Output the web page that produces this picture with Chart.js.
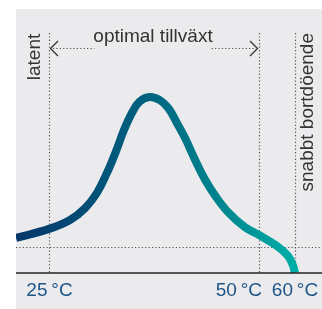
<!DOCTYPE html>
<html>
<head>
<meta charset="utf-8">
<script src="https://cdn.jsdelivr.net/npm/chart.js@4/dist/chart.umd.min.js"></script>
<style>
  html, body { margin: 0; padding: 0; background: #fff; }
  #wrap { width: 322px; height: 309px; }
</style>
</head>
<body>
<div id="wrap"><canvas id="growth"></canvas></div>
<script>
// temperatur (°C) och relativ tillväxt
const temps = [21, 25, 27.5, 29.3, 30.7, 31.9, 33.0, 33.9, 34.9, 35.8, 37.0, 38.2, 39.2, 40.1, 41.2, 42.4, 43.6, 44.8, 46.3, 48.3, 50, 55, 58.1, 59.4, 60];
const growth = [13.3, 16.7, 20.1, 24.6, 30.3, 37.9, 46.3, 54.0, 60.8, 65.0, 66.7, 65.5, 62.5, 57.6, 51.1, 42.8, 35.2, 29.2, 23.1, 17.4, 14.4, 10.2, 6.4, 3.0, 0];

const tickValues = [25, 50, 60];
const tickLabels = ["25\u2009°C", "50\u2009°C", "60\u2009°C"];
const refLevel = 10; // horisontell prickad linje
const zoneLabels = ["latent", "optimal tillväxt", "snabbt bortdöende"];

// schematisk x-axel: olika skala i varje intervall
class PiecewiseScale extends Chart.LinearScale {
    static id = "piecewise";
    static defaults = {};
    getPixelForValue(value) {
        const b = this.options.breaks;
        let i = 0;
        while (i < b.length - 2 && value > b[i + 1][0]) i++;
        const v0 = b[i][0], f0 = b[i][1], v1 = b[i + 1][0], f1 = b[i + 1][1];
        return this.getPixelForDecimal(f0 + (value - v0) / (v1 - v0) * (f1 - f0));
    }
    getValueForPixel(pixel) {
        const b = this.options.breaks;
        const d = this.getDecimalForPixel(pixel);
        let i = 0;
        while (i < b.length - 2 && d > b[i + 1][1]) i++;
        const v0 = b[i][0], f0 = b[i][1], v1 = b[i + 1][0], f1 = b[i + 1][1];
        return v0 + (d - f0) / (f1 - f0) * (v1 - v0);
    }
}
Chart.register(PiecewiseScale);

const FONT = '19px "Liberation Sans", Arial, sans-serif';
const TEXT = "#333";
const TICK = "#1c5587";

function dotted(ctx, x1, y1, x2, y2) {
    ctx.beginPath();
    ctx.moveTo(x1, y1);
    ctx.lineTo(x2, y2);
    ctx.stroke();
}

const schematic = {
    id: "schematic",
    beforeDraw(chart) {
        const { ctx, chartArea: a } = chart;
        ctx.save();
        ctx.fillStyle = "#ebebee";
        ctx.fillRect(a.left, a.top, a.right - a.left, chart.height - a.top);
        ctx.restore();
    },
    beforeDatasetsDraw(chart) {
        const { ctx, chartArea: a, scales: { x, y } } = chart;
        ctx.save();
        ctx.strokeStyle = "#555";
        ctx.lineWidth = 1.2;
        ctx.setLineDash([1.2, 2.2]);
        tickValues.forEach(v => {
            const px = Math.round(x.getPixelForValue(v)) + 0.5;
            dotted(ctx, px, a.top + 24, px, a.bottom);
        });
        const py = Math.round(y.getPixelForValue(refLevel)) + 0.5;
        dotted(ctx, a.left, py, a.right, py);

        // pilar för "optimal tillväxt"
        const xl = x.getPixelForValue(tickValues[0]);
        const xr = x.getPixelForValue(tickValues[1]);
        const ay = a.top + 39.5;
        ctx.font = FONT;
        const mid = (xl + xr) / 2 - 1;
        const tw = ctx.measureText(zoneLabels[1]).width;
        dotted(ctx, xl + 4, ay, mid - tw / 2 + 1, ay);
        dotted(ctx, mid + tw / 2 - 1, ay, xr - 3, ay);
        ctx.setLineDash([]);
        ctx.strokeStyle = "#333";
        ctx.lineWidth = 1.3;
        ctx.beginPath();
        ctx.moveTo(xl + 9, ay - 7.5); ctx.lineTo(xl + 1.5, ay); ctx.lineTo(xl + 9, ay + 7.5);
        ctx.moveTo(xr - 9, ay - 7.5); ctx.lineTo(xr - 1.5, ay); ctx.lineTo(xr - 9, ay + 7.5);
        ctx.stroke();

        ctx.fillStyle = TEXT;
        ctx.textAlign = "center";
        ctx.textBaseline = "alphabetic";
        ctx.fillText(zoneLabels[1], mid, a.top + 33);
        ctx.restore();
    },
    afterDatasetsDraw(chart) {
        const { ctx, chartArea: a, scales: { x } } = chart;
        ctx.save();
        // x-axel
        ctx.strokeStyle = "#222";
        ctx.lineWidth = 1.6;
        ctx.beginPath();
        ctx.moveTo(a.left, a.bottom);
        ctx.lineTo(a.right, a.bottom);
        ctx.stroke();

        // lodräta etiketter
        ctx.font = FONT;
        ctx.fillStyle = TEXT;
        ctx.textBaseline = "alphabetic";
        ctx.save();
        ctx.translate(x.getPixelForValue(tickValues[0]) - 9, a.top + 48);
        ctx.rotate(-Math.PI / 2);
        ctx.textAlign = "center";
        ctx.fillText(zoneLabels[0], 0, 0);
        ctx.restore();
        ctx.save();
        ctx.translate(x.getPixelForValue(tickValues[2]) + 18, a.top + 24);
        ctx.rotate(-Math.PI / 2);
        ctx.textAlign = "right";
        ctx.fillText(zoneLabels[2], 0, 0);
        ctx.restore();

        // tick-etiketter
        ctx.fillStyle = TICK;
        const aligns = ["center", "right", "center"];
        const shifts = [0.5, 3, 0];
        tickValues.forEach((v, i) => {
            ctx.textAlign = aligns[i];
            ctx.fillText(tickLabels[i], x.getPixelForValue(v) + shifts[i], a.bottom + 23);
        });
        ctx.restore();
    }
};

const canvas = document.getElementById("growth");

new Chart(canvas, {
    type: "line",
    data: {
        datasets: [{
            data: temps.map((t, i) => ({ x: t, y: growth[i] })),
            borderWidth: 8,
            borderCapStyle: "butt",
            pointRadius: 0,
            tension: 0.4,
            clip: 0,
            borderColor: (c) => {
                const chart = c.chart;
                const a = chart.chartArea;
                if (!a) return "#00607f";
                const x = chart.scales.x;
                const g = chart.ctx.createLinearGradient(a.left, 0, x.getPixelForValue(60), 0);
                g.addColorStop(0, "#05366a");
                g.addColorStop(0.45, "#00617f");
                g.addColorStop(0.75, "#00878f");
                g.addColorStop(1, "#00aea8");
                return g;
            }
        }]
    },
    options: {
        responsive: true,
        maintainAspectRatio: false,
        animation: false,
        layout: { padding: { left: 16, top: 9, right: 0, bottom: 36 } },
        plugins: { legend: { display: false }, tooltip: { enabled: false } },
        scales: {
            x: {
                type: "piecewise",
                display: false,
                min: 21,
                max: 67.5,
                breaks: [[21, 0], [25, 33 / 306], [50, 243 / 306], [60, 279 / 306], [67.5, 1]]
            },
            y: { display: false, min: 0, max: 100 }
        }
    },
    plugins: [schematic]
});
</script>
</body>
</html>
